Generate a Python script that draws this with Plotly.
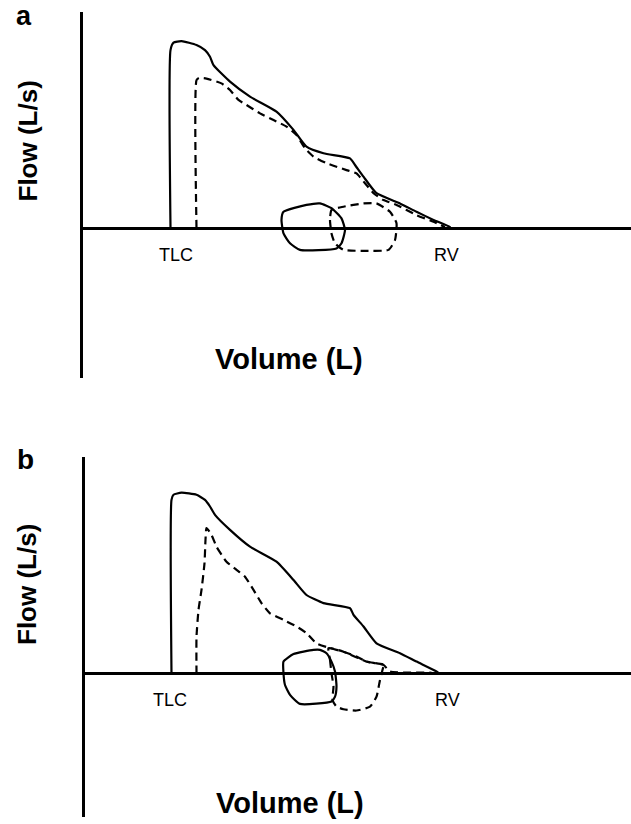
import plotly.graph_objects as go

# Flow-volume loops, arbitrary units: volume in L (TLC at left), flow in L/s.
# Panel a
a_solid_vol = [1.75, 1.75, 1.81, 1.97, 2.27, 2.44, 2.54, 2.61, 2.94, 3.34, 3.87, 4.21, 4.47,
               4.81, 5.34, 5.44, 5.61, 5.87, 6.34, 6.67, 7.01, 7.34, 7.34]
a_solid_flow = [0.0, 5.93, 6.18, 6.23, 6.10, 5.93, 5.71, 5.43, 4.88, 4.38, 3.88, 3.27, 2.71,
                2.49, 2.32, 2.10, 1.71, 1.16, 0.82, 0.54, 0.27, 0.03, 0.0]
a_dash_vol = [2.27, 2.27, 2.32, 2.47, 2.77, 2.94, 3.11, 3.27, 3.54, 3.81, 4.07, 4.27, 4.44,
              4.61, 4.87, 5.27, 5.47, 5.64, 5.81, 6.01, 6.27, 6.67, 7.01, 7.24]
a_dash_flow = [0.0, 4.93, 5.00, 4.98, 4.82, 4.60, 4.27, 4.10, 3.82, 3.60, 3.38, 3.10, 2.66,
               2.38, 2.16, 1.93, 1.82, 1.49, 1.16, 0.93, 0.77, 0.43, 0.21, 0.03]
a_tidal_solid_vol = [4.01, 4.47, 4.74, 4.97, 5.17, 5.24, 5.17, 5.07, 4.34, 4.14, 4.01, 3.97, 4.01]
a_tidal_solid_flow = [0.54, 0.77, 0.82, 0.66, 0.32, -0.07, -0.51, -0.68, -0.73, -0.51, -0.18, 0.27, 0.54]
a_tidal_dash_vol = [4.97, 4.94, 4.97, 5.04, 5.21, 5.67, 6.11, 6.24, 6.27, 6.14, 5.87, 5.61, 5.21, 4.97]
a_tidal_dash_flow = [0.60, 0.27, -0.18, -0.51, -0.73, -0.76, -0.73, -0.40, 0.16, 0.54, 0.82, 0.82, 0.71, 0.60]

# Panel b
b_solid_vol = [1.73, 1.73, 1.77, 1.93, 2.23, 2.40, 2.50, 2.60, 2.90, 3.30, 3.83, 4.17, 4.43,
               4.77, 5.30, 5.37, 5.57, 5.83, 6.30, 6.63, 7.03, 7.10]
b_solid_flow = [0.0, 5.80, 5.97, 6.04, 5.97, 5.80, 5.58, 5.30, 4.80, 4.24, 3.74, 3.13, 2.63,
                2.36, 2.19, 1.97, 1.58, 1.02, 0.69, 0.41, 0.08, 0.0]
b_dash_vol = [2.23, 2.23, 2.27, 2.33, 2.39, 2.41, 2.43, 2.53, 2.63, 2.83, 3.03, 3.20, 3.37,
              3.53, 3.70, 3.97, 4.23, 4.43, 4.63, 4.90, 5.17, 5.43, 5.63, 5.97, 6.10, 6.90, 7.03]
b_dash_flow = [0.0, 1.24, 2.13, 2.80, 3.69, 4.47, 4.86, 4.63, 4.24, 3.74, 3.47, 3.24, 2.80,
               2.36, 2.02, 1.80, 1.58, 1.36, 1.02, 0.86, 0.74, 0.58, 0.41, 0.30, 0.08, 0.04, 0.0]
b_tidal_solid_vol = [3.97, 4.17, 4.57, 4.70, 4.83, 4.93, 5.00, 5.03, 5.00, 4.93, 4.30, 4.10, 4.00, 3.97, 3.97]
b_tidal_solid_flow = [0.41, 0.66, 0.80, 0.80, 0.69, 0.41, 0.08, -0.42, -0.76, -0.92, -1.00, -0.70, -0.37, 0.02, 0.41]
b_tidal_dash_vol = [4.87, 4.90, 4.93, 4.97, 4.95, 5.03, 5.17, 5.43, 5.70, 5.83, 5.90, 5.97, 6.00, 5.63, 5.17, 4.87]
b_tidal_dash_flow = [0.86, 0.47, 0.02, -0.42, -0.87, -1.09, -1.18, -1.22, -1.09, -0.76, -0.20, 0.24, 0.30, 0.41, 0.74, 0.86]

# Axis extents (arbitrary units)
a_vol_range = [0, 10.96]
a_flow_range = [-5.0, 7.2]
b_vol_range = [0, 10.92]
b_flow_range = [-4.77, 7.23]

W, H = 631, 824
FONT = "Liberation Sans, Arial, Helvetica, sans-serif"
LW = 2.2
DASH = "8px,5px"

fig = go.Figure()


def add_curve(vol, flow, dashed, xa, ya):
    fig.add_trace(go.Scatter(
        x=vol, y=flow, mode="lines", xaxis=xa, yaxis=ya, showlegend=False,
        hoverinfo="skip",
        line=dict(color="black", width=LW, dash=DASH if dashed else "solid",
                  shape="spline", smoothing=0.5),
    ))


add_curve(a_solid_vol, a_solid_flow, False, "x", "y")
add_curve(a_dash_vol, a_dash_flow, True, "x", "y")
add_curve(a_tidal_solid_vol, a_tidal_solid_flow, False, "x", "y")
add_curve(a_tidal_dash_vol, a_tidal_dash_flow, True, "x", "y")

add_curve(b_solid_vol, b_solid_flow, False, "x2", "y2")
add_curve(b_dash_vol, b_dash_flow, True, "x2", "y2")
add_curve(b_tidal_solid_vol, b_tidal_solid_flow, False, "x2", "y2")
add_curve(b_tidal_dash_vol, b_tidal_dash_flow, True, "x2", "y2")

xcommon = dict(showgrid=False, zeroline=False, showline=False, showticklabels=False,
               ticks="", fixedrange=True)
ycommon = dict(showgrid=False, zeroline=True, zerolinecolor="black", zerolinewidth=3,
               showline=True, linecolor="black", linewidth=2.5, showticklabels=False,
               ticks="", fixedrange=True)

fig.update_layout(
    width=W, height=H,
    margin=dict(l=0, r=0, t=0, b=0),
    paper_bgcolor="white", plot_bgcolor="white",
    xaxis=dict(domain=[83 / W, 1], range=a_vol_range, anchor="y", **xcommon),
    yaxis=dict(domain=[1 - 378 / H, 1 - 12 / H], range=a_flow_range, anchor="x", **ycommon),
    xaxis2=dict(domain=[85 / W, 1], range=b_vol_range, anchor="y2", **xcommon),
    yaxis2=dict(domain=[1 - 817 / H, 1 - 457 / H], range=b_flow_range, anchor="x2", **ycommon),
)


def px_note(text, px, py, size, bold=False, angle=0, yanchor="middle"):
    fig.add_annotation(
        text=f"<b>{text}</b>" if bold else text,
        xref="paper", yref="paper", x=px / W, y=1 - py / H,
        xanchor="center", yanchor=yanchor, showarrow=False, textangle=angle,
        borderpad=0,
        font=dict(family=FONT, size=size, color="black"),
    )


def data_note(text, x, y, xa, ya, size=18):
    fig.add_annotation(
        text=text, xref=xa, yref=ya, x=x, y=y, xanchor="center", yanchor="middle",
        showarrow=False, font=dict(family=FONT, size=size, color="black"),
    )


# Panel letters
px_note("a", 24, 0, 27, bold=True, yanchor="top")
px_note("b", 25, 459, 28, bold=True)

# Axis titles
px_note("Flow (L/s)", 27, 141.5, 26, bold=True, angle=-90)
px_note("Volume (L)", 289, 359, 29, bold=True)
px_note("Flow (L/s)", 27, 585, 26, bold=True, angle=-90)
px_note("Volume (L)", 290, 803, 29, bold=True)

# Lung volume markers
data_note("TLC", 1.85, -0.9, "x", "y")
data_note("RV", 7.27, -0.9, "x", "y")
data_note("TLC", 1.70, -0.87, "x2", "y2")
data_note("RV", 7.25, -0.87, "x2", "y2")

fig.write_html("out.html")
